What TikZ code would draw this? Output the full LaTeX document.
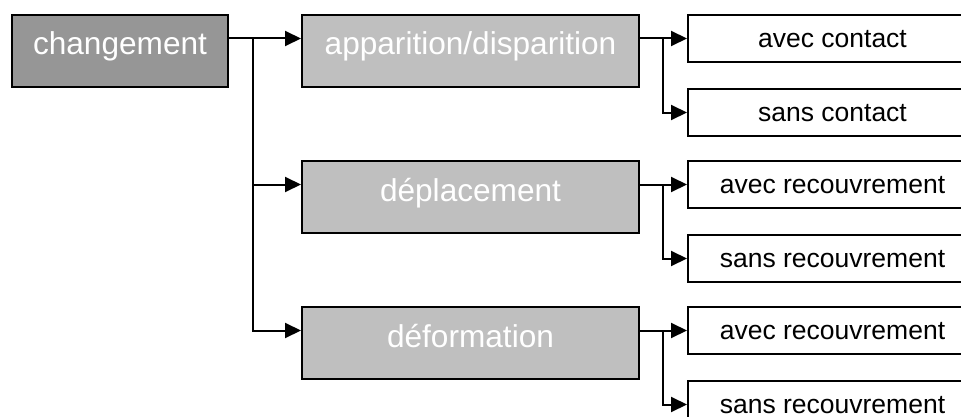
\documentclass[tikz,border=0pt]{standalone}
\usepackage{fontspec}
\setmainfont{Liberation Sans}
\usetikzlibrary{positioning, arrows.meta}
\definecolor{darkbox}{gray}{0.59}
\definecolor{lightbox}{gray}{0.75}
\tikzset{
x=1pt, y=1pt, % one unit is one pixel of the picture
>={Triangle[length=16pt, width=15pt]}, % filled arrow heads
every node/.style={draw, line width=2pt, inner sep=0pt},
rootbox/.style={fill=darkbox, text=white, minimum width=216pt, minimum height=72pt,
  font=\fontsize{31.6}{36}\selectfont, text height=14pt, text depth=6pt}, % the first box
kindbox/.style={rootbox, fill=lightbox, minimum width=337pt}, % the three kinds of change
leafbox/.style={fill=white, minimum width=289pt, minimum height=47pt,
  font=\fontsize{26.5}{30}\selectfont, text height=20pt, text depth=2pt}, % white boxes on the right
link/.style={->, line width=2pt},
}

\begin{document}
\begin{tikzpicture}
      \useasboundingbox (0,0) rectangle (961,416);
      \clip (0,0) rectangle (961,416);

      \node[rootbox] (chg) at (120,365) {changement};
      \node[kindbox, right=72pt of chg] (app) {apparition/disparition};
      \node[kindbox, below=72pt of app] (dep) {déplacement};
      \node[kindbox, below=72pt of dep] (def) {déformation};

      \node[leafbox, below right=0pt and 47pt of app.north east] (appA) {avec contact};
      \node[leafbox, below=25pt of appA] (appS) {sans contact};
      \node[leafbox, below right=0pt and 47pt of dep.north east] (depA) {avec recouvrement};
      \node[leafbox, below=25pt of depA] (depS) {sans recouvrement};
      \node[leafbox, below right=0pt and 47pt of def.north east] (defA) {avec recouvrement};
      \node[leafbox, below=25pt of defA] (defS) {sans recouvrement};

      % left tree
      \coordinate (trunk) at ([xshift=24pt]chg.east |- appA);
      \draw[link] (chg.east |- appA) -- (app.west |- appA);
      \draw[link] (trunk) |- (dep.west |- depA);
      \draw[link] (trunk) |- (def.west |- defA);

      % right trees
      \foreach \k in {app, dep, def} {
        \draw[link] (\k.east |- \k A) -- (\k A.west);
        \draw[link] ([xshift=23pt]\k.east |- \k A) |- (\k S.west);
      }
\end{tikzpicture}
\end{document}
